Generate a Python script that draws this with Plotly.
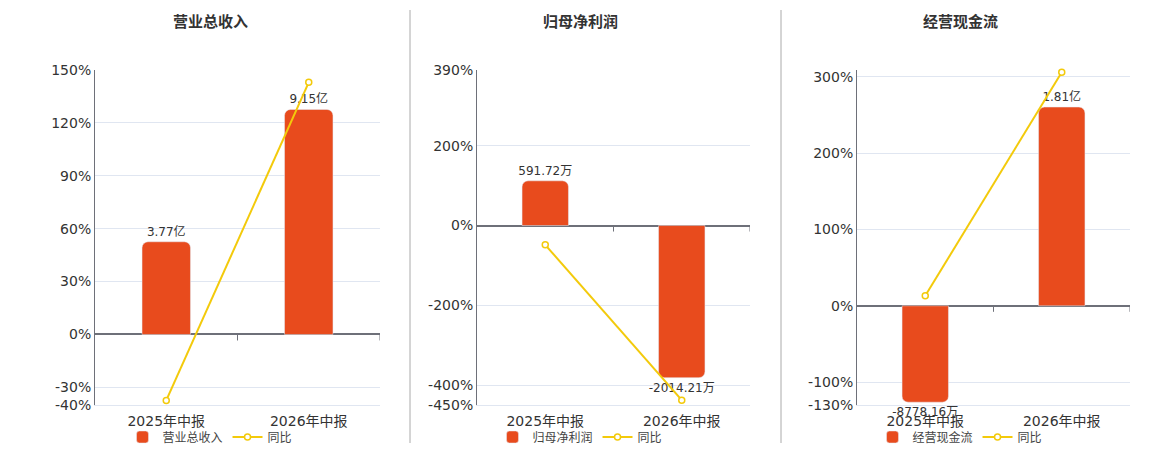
import plotly.graph_objects as go

# ---- data ----
categories = ["2025年中报", "2026年中报"]

titles = ["营业总收入", "归母净利润", "经营现金流"]

# bar values in 万元
revenue = [37700, 91500]
net_profit = [591.72, -2014.21]
cash_flow = [-8778.16, 18100]

revenue_text = ["3.77亿", "9.15亿"]
net_profit_text = ["591.72万", "-2014.21万"]
cash_flow_text = ["-8778.16万", "1.81亿"]

# year-on-year, %
revenue_yoy = [-37.4, 143.0]
net_profit_yoy = [-48.4, -438.0]
cash_flow_yoy = [13.1, 306.0]

revenue_ticks = [-40, -30, 0, 30, 60, 90, 120, 150]
net_profit_ticks = [-450, -400, -200, 0, 200, 390]
cash_flow_ticks = [-130, -100, 0, 100, 200, 300, 309]
cash_flow_ticktext = ["-130%", "-100%", "0%", "100%", "200%", "300%", ""]

BAR = "#E84B1D"
LINE = "#F3CA0B"
GRID = "#E0E6F1"
AXIS = "#6E7079"
TXT = "#333333"
FONT = "DejaVu Sans, Noto Sans CJK SC, sans-serif"

W, H = 1160, 450


def px_x(v):
    return v / W


def px_y(v):
    return 1 - v / H


panels = [
    dict(title=titles[0], bars=revenue, text=revenue_text, yoy=revenue_yoy,
         ticks=revenue_ticks, ticktext=[f"{t}%" for t in revenue_ticks],
         pct_range=[-40, 150], per_pct=717, plot_x=(95, 380), center=210),
    dict(title=titles[1], bars=net_profit, text=net_profit_text, yoy=net_profit_yoy,
         ticks=net_profit_ticks, ticktext=[f"{t}%" for t in net_profit_ticks],
         pct_range=[-450, 390], per_pct=5.28, plot_x=(477, 750), center=580),
    dict(title=titles[2], bars=cash_flow, text=cash_flow_text, yoy=cash_flow_yoy,
         ticks=cash_flow_ticks, ticktext=cash_flow_ticktext,
         pct_range=[-130, 309], per_pct=69.5, plot_x=(857, 1130), center=960),
]

fig = go.Figure()
layout = {}
shapes = []
annotations = []

for i, p in enumerate(panels):
    n = i + 1
    xname = "x" if n == 1 else f"x{n}"
    ybar = "y" if i == 0 else f"y{2 * i + 1}"
    ypct = f"y{2 * i + 2}"
    leg = "legend" if n == 1 else f"legend{n}"

    fig.add_trace(go.Bar(
        x=categories, y=p["bars"], text=p["text"], name=p["title"],
        xaxis=xname, yaxis=ybar, legend=leg,
        marker=dict(color=BAR, cornerradius=6), width=0.34,
        textposition="outside", textangle=0, cliponaxis=False,
        constraintext="none",
        textfont=dict(size=12, color=TXT, family=FONT),
    ))
    fig.add_trace(go.Scatter(
        x=categories, y=p["yoy"], name="同比", mode="lines+markers",
        xaxis=xname, yaxis=ypct, legend=leg, cliponaxis=False,
        line=dict(color=LINE, width=2),
        marker=dict(symbol="circle", size=6, color="white",
                    line=dict(color=LINE, width=1.5)),
    ))

    x0, x1 = p["plot_x"]
    dom_x = [px_x(x0), px_x(x1)]
    dom_y = [px_y(405), px_y(70)]
    lo, hi = p["pct_range"]

    layout[f"xaxis{n}"] = dict(
        domain=dom_x, anchor=ybar, type="category", range=[-0.5, 1.5],
        showgrid=False, showline=True, linecolor=GRID, linewidth=1,
        ticks="", ticklabelstandoff=3,
        tickfont=dict(size=14, color=TXT, family=FONT),
        automargin=False, fixedrange=True,
    )
    layout[f"yaxis{2 * i + 1}"] = dict(
        domain=dom_y, anchor=xname, visible=False, automargin=False,
        range=[lo * p["per_pct"], hi * p["per_pct"]], fixedrange=True,
    )
    layout[f"yaxis{2 * i + 2}"] = dict(
        domain=dom_y, anchor=xname, overlaying=ybar, side="left",
        range=[lo, hi], tickvals=p["ticks"], ticktext=p["ticktext"],
        showgrid=True, gridcolor=GRID, gridwidth=1,
        showline=True, linecolor=AXIS, linewidth=1,
        zeroline=True, zerolinecolor=AXIS, zerolinewidth=2,
        ticks="", tickfont=dict(size=14, color=TXT, family=FONT),
        automargin=False, fixedrange=True,
    )

    # category boundary ticks on the zero line
    for xv in (0.5, 1.5):
        shapes.append(dict(
            type="line", xref=xname, yref=ypct, x0=xv, x1=xv,
            ysizemode="pixel", yanchor=0, y0=0, y1=-6,
            line=dict(color=AXIS, width=1),
        ))

    annotations.append(dict(
        text=f"<b>{p['title']}</b>", xref="paper", yref="paper",
        x=px_x(p["center"]), y=px_y(22), xanchor="center", yanchor="middle",
        showarrow=False, font=dict(size=15, color=TXT, family=FONT),
    ))

    layout[leg] = dict(
        orientation="h", x=px_x(p["center"]), y=px_y(437),
        xanchor="center", yanchor="middle",
        font=dict(size=12, color="#444444", family=FONT),
        bgcolor="rgba(0,0,0,0)", itemwidth=30, tracegroupgap=0,
    )

# panel dividers
for xv in (410, 781):
    shapes.append(dict(
        type="line", xref="paper", yref="paper",
        x0=px_x(xv), x1=px_x(xv), y0=px_y(10), y1=px_y(443),
        line=dict(color="#AAAAAA", width=1),
    ))

fig.update_layout(
    width=W, height=H, margin=dict(l=0, r=0, t=0, b=0, autoexpand=False),
    paper_bgcolor="white", plot_bgcolor="white",
    font=dict(family=FONT, color=TXT),
    showlegend=True, barmode="group",
    shapes=shapes, annotations=annotations,
    **layout,
)

fig.write_html(
    "out.html",
    config={"displayModeBar": False},
    post_script="document.body.style.margin='0';document.body.style.overflow='hidden';",
)
